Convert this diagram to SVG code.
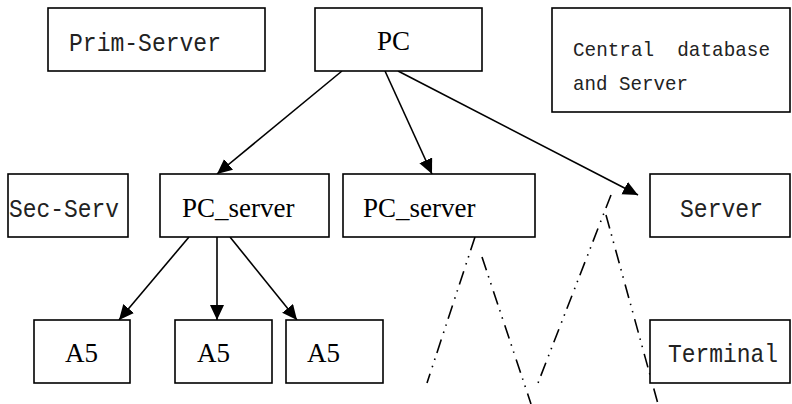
<svg xmlns="http://www.w3.org/2000/svg" width="792" height="404" viewBox="0 0 792 404">
<style>
.box{fill:#fff;stroke:#000;stroke-width:1.6}
.mono{font-family:"Liberation Mono",monospace;font-size:25px;fill:#222}
.small{font-size:21px}
.serif{font-family:"Liberation Serif",serif;font-size:27px;fill:#000}
.edge{stroke:#000;stroke-width:1.6;fill:none}
.dd{stroke:#000;stroke-width:1.6;fill:none;stroke-dasharray:14 6 1.5 6 1.5 7}
</style>
<defs>
<marker id="ah" markerUnits="userSpaceOnUse" markerWidth="16" markerHeight="15" refX="15" refY="7" orient="auto">
<path d="M0,0 L15,7 L0,14 z" fill="#000"/>
</marker>
</defs>
<rect width="792" height="404" fill="#fff"/>
<g id="connectors">
<line class="edge" x1="342" y1="71" x2="217" y2="174" marker-end="url(#ah)"/>
<line class="edge" x1="385" y1="71" x2="432" y2="174" marker-end="url(#ah)"/>
<line class="edge" x1="398" y1="71" x2="638" y2="195" marker-end="url(#ah)"/>
<line class="edge" x1="189" y1="237" x2="119" y2="320" marker-end="url(#ah)"/>
<line class="edge" x1="217" y1="237" x2="217" y2="320" marker-end="url(#ah)"/>
<line class="edge" x1="230" y1="237" x2="297" y2="320" marker-end="url(#ah)"/>
<line class="dd" x1="475" y1="237" x2="427" y2="383"/>
<line class="dd" x1="482" y1="257" x2="531" y2="404"/>
<line class="dd" x1="611" y1="195" x2="538" y2="383"/>
<line class="dd" x1="606" y1="215" x2="658" y2="404"/>
</g>
<g id="prim-server">
<rect class="box" x="48" y="8" width="217" height="63"/>
<text class="mono" x="69" y="51" textLength="152" lengthAdjust="spacingAndGlyphs">Prim-Server</text>
</g>
<g id="pc">
<rect class="box" x="315" y="8" width="167" height="63"/>
<text class="serif" x="377" y="50">PC</text>
</g>
<g id="central">
<rect class="box" x="552" y="8" width="238" height="104"/>
<text class="mono small" x="573" y="56" xml:space="preserve" textLength="197" lengthAdjust="spacingAndGlyphs">Central  database</text>
<text class="mono small" x="573" y="90" textLength="115" lengthAdjust="spacingAndGlyphs">and Server</text>
</g>
<g id="sec-serv">
<rect class="box" x="8" y="174" width="120" height="63"/>
<text class="mono" x="9" y="217" textLength="110" lengthAdjust="spacingAndGlyphs">Sec-Serv</text>
</g>
<g id="pc-server-1">
<rect class="box" x="160" y="174" width="169" height="63"/>
<text class="serif" x="182" y="217">PC_server</text>
</g>
<g id="pc-server-2">
<rect class="box" x="343" y="174" width="192" height="63"/>
<text class="serif" x="363" y="217">PC_server</text>
</g>
<g id="server">
<rect class="box" x="650" y="174" width="140" height="63"/>
<text class="mono" x="680" y="217" textLength="83" lengthAdjust="spacingAndGlyphs">Server</text>
</g>
<g id="a5-1">
<rect class="box" x="34" y="320" width="96" height="63"/>
<text class="serif" x="65" y="362">A5</text>
</g>
<g id="a5-2">
<rect class="box" x="175" y="320" width="97" height="63"/>
<text class="serif" x="197" y="362">A5</text>
</g>
<g id="a5-3">
<rect class="box" x="286" y="320" width="97" height="63"/>
<text class="serif" x="307" y="362">A5</text>
</g>
<g id="terminal">
<rect class="box" x="650" y="320" width="140" height="63"/>
<text class="mono" x="668" y="362" textLength="110" lengthAdjust="spacingAndGlyphs">Terminal</text>
</g>
</svg>
